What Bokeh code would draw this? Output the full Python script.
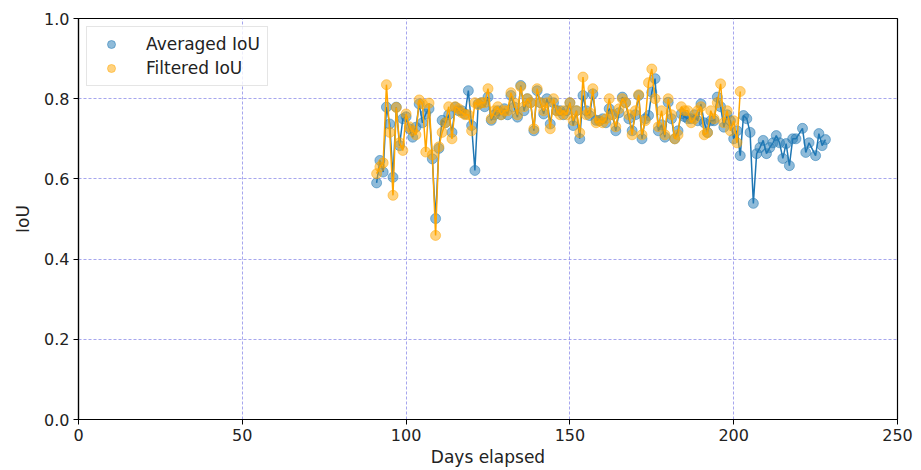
from bokeh.plotting import figure
from bokeh.models import FixedTicker, PrintfTickFormatter, Legend, LegendItem, Range1d
from bokeh.embed import file_html
from bokeh.resources import INLINE

avg_days = list(range(91, 220)) + [221, 222, 223, 225, 226, 227, 228]
avg_iou = [
    0.590, 0.646, 0.617, 0.779, 0.737, 0.604, 0.779, 0.683, 0.750, 0.755,  # 91-100
    0.725, 0.704, 0.729, 0.787, 0.740, 0.762, 0.775, 0.650, 0.501, 0.676,  # 101-110
    0.746, 0.740, 0.760, 0.716, 0.779, 0.770, 0.770, 0.762, 0.820, 0.733,  # 111-120
    0.621, 0.787, 0.790, 0.780, 0.804, 0.746, 0.760, 0.770, 0.760, 0.775,  # 121-130
    0.760, 0.808, 0.779, 0.754, 0.833, 0.770, 0.800, 0.790, 0.720, 0.820,  # 131-140
    0.790, 0.762, 0.800, 0.737, 0.790, 0.770, 0.770, 0.760, 0.770, 0.790,  # 141-150
    0.733, 0.770, 0.700, 0.808, 0.770, 0.758, 0.812, 0.746, 0.745, 0.750,  # 151-160
    0.740, 0.775, 0.760, 0.720, 0.765, 0.804, 0.790, 0.750, 0.720, 0.760,  # 161-170
    0.808, 0.700, 0.750, 0.758, 0.816, 0.850, 0.720, 0.735, 0.704, 0.791,  # 171-180
    0.750, 0.700, 0.720, 0.762, 0.755, 0.750, 0.750, 0.760, 0.745, 0.787,  # 181-190
    0.740, 0.716, 0.745, 0.745, 0.804, 0.780, 0.729, 0.760, 0.745, 0.700,  # 191-200
    0.720, 0.658, 0.758, 0.750, 0.716, 0.539, 0.663, 0.678, 0.696, 0.663,  # 201-210
    0.678, 0.690, 0.708, 0.690, 0.651, 0.688, 0.633, 0.700, 0.700,         # 211-219
    0.726, 0.666, 0.690, 0.658, 0.713, 0.683, 0.698,                       # 221-228
]

filt_days = list(range(91, 203))
filt_iou = [
    0.613, 0.630, 0.640, 0.835, 0.716, 0.559, 0.778, 0.690, 0.671, 0.762,  # 91-100
    0.730, 0.720, 0.710, 0.797, 0.787, 0.667, 0.789, 0.660, 0.459, 0.680,  # 101-110
    0.716, 0.740, 0.780, 0.700, 0.780, 0.775, 0.765, 0.760, 0.760, 0.720,  # 111-120
    0.790, 0.785, 0.790, 0.790, 0.825, 0.750, 0.770, 0.780, 0.760, 0.770,  # 121-130
    0.770, 0.815, 0.790, 0.760, 0.830, 0.780, 0.800, 0.790, 0.725, 0.825,  # 131-140
    0.790, 0.770, 0.790, 0.725, 0.800, 0.770, 0.760, 0.770, 0.760, 0.790,  # 141-150
    0.745, 0.770, 0.715, 0.854, 0.760, 0.765, 0.825, 0.740, 0.745, 0.740,  # 151-160
    0.750, 0.800, 0.760, 0.730, 0.775, 0.800, 0.790, 0.760, 0.710, 0.770,  # 161-170
    0.810, 0.710, 0.745, 0.840, 0.874, 0.800, 0.730, 0.770, 0.710, 0.800,  # 171-180
    0.760, 0.700, 0.710, 0.780, 0.770, 0.770, 0.740, 0.750, 0.770, 0.780,  # 181-190
    0.710, 0.715, 0.770, 0.750, 0.790, 0.837, 0.740, 0.770, 0.720, 0.745,  # 191-200
    0.690, 0.818,                                                          # 201-202
]

x_ticks = [0, 50, 100, 150, 200, 250]
y_ticks = [0.0, 0.2, 0.4, 0.6, 0.8, 1.0]

BLUE = "#1f77b4"
ORANGE = "#ffa500"
FONT = "DejaVu Sans"

p = figure(width=921, height=470, output_backend="svg", toolbar_location=None,
           x_range=Range1d(0, 250), y_range=Range1d(0, 1.0),
           min_border_left=78, min_border_right=24, min_border_top=18, min_border_bottom=51)

p.outline_line_color = "black"
p.outline_line_width = 1.2

for ax in (p.xaxis[0], p.yaxis[0]):
    ax.axis_line_color = "black"
    ax.axis_line_width = 1.2
    ax.major_tick_line_color = "black"
    ax.major_tick_out = 5
    ax.major_tick_in = 0
    ax.minor_tick_line_color = None
    ax.major_label_text_font = FONT
    ax.major_label_text_font_size = "16px"
    ax.major_label_text_color = "#222222"
    ax.axis_label_text_font = FONT
    ax.axis_label_text_font_size = "17px"
    ax.axis_label_text_font_style = "normal"
    ax.axis_label_text_color = "#222222"

p.xaxis[0].ticker = FixedTicker(ticks=x_ticks)
p.yaxis[0].ticker = FixedTicker(ticks=y_ticks)
p.yaxis[0].formatter = PrintfTickFormatter(format="%.1f")
p.xaxis[0].axis_label = "Days elapsed"
p.yaxis[0].axis_label = "IoU"
p.xaxis[0].axis_label_standoff = 3
p.yaxis[0].axis_label_standoff = 8
p.xaxis[0].major_label_standoff = 4
p.yaxis[0].major_label_standoff = 4

for g in (p.xgrid[0], p.ygrid[0]):
    g.grid_line_color = "#5f5fe0"
    g.grid_line_alpha = 0.7
    g.grid_line_dash = "3 2"
    g.grid_line_width = 0.8

p.line(avg_days, avg_iou, line_color=BLUE, line_width=1.5)
s1 = p.scatter(avg_days, avg_iou, size=10, fill_color=BLUE, fill_alpha=0.5,
               line_color=BLUE, line_alpha=0.5)
p.line(filt_days, filt_iou, line_color=ORANGE, line_width=1.5)
s2 = p.scatter(filt_days, filt_iou, size=10, fill_color=ORANGE, fill_alpha=0.5,
               line_color=ORANGE, line_alpha=0.5)

legend = Legend(items=[LegendItem(label="Averaged IoU", renderers=[s1]),
                       LegendItem(label="Filtered IoU", renderers=[s2])],
                location="top_left")
legend.label_text_font = FONT
legend.label_text_font_size = "17px"
legend.label_text_color = "#222222"
legend.border_line_color = "#cccccc"
legend.border_line_width = 1
legend.background_fill_alpha = 0.8
legend.margin = 8
legend.padding = 7
legend.spacing = 4
legend.glyph_width = 34
legend.label_standoff = 18
p.add_layout(legend)

open("out.html", "w").write(file_html(p, INLINE))
